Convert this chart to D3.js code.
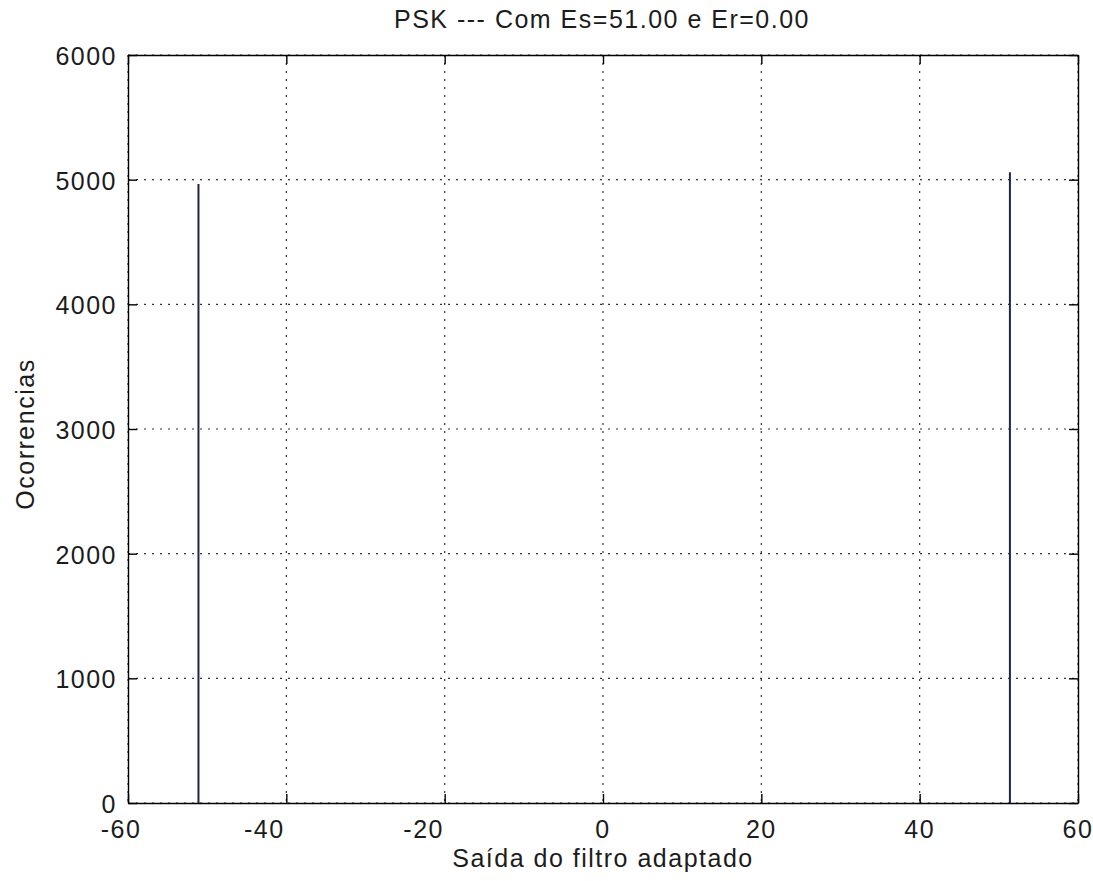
<!DOCTYPE html>
<html>
<head>
<meta charset="utf-8">
<script src="https://cdn.jsdelivr.net/npm/d3@7"></script>
<style>
  html, body { margin: 0; padding: 0; background: #fff; }
  svg { display: block; }
  text { font-family: "Liberation Sans", Arial, sans-serif; fill: #1c1c1c; }
</style>
</head>
<body>
<svg id="chart" width="1093" height="881"></svg>
<script>
// Histogram of matched-filter output: two occupied bins (symbols -1 / +1)
const binCenters = [-51.1, 51.4];
const counts = [4965, 5060];

const xTicks = [-60, -40, -20, 0, 20, 40, 60];
const yTicks = [0, 1000, 2000, 3000, 4000, 5000, 6000];

const titleText = "PSK --- Com Es=51.00 e Er=0.00";
const xLabel = "Saída do filtro adaptado";
const yLabel = "Ocorrencias";

const svg = d3.select("#chart");
const L = 128, R = 1078, T = 55, B = 803;

const x = d3.scaleLinear().domain([-60, 60]).range([L, R]);
const y = d3.scaleLinear().domain([0, 6000]).range([B, T]);

const fontSize = 25, ls = 1.5;

// horizontal nudge for the negative tick labels (they sit left of their tick)
const negLabelShift = { "-60": -7, "-40": -22, "-20": -21 };

// dotted grid
const grid = svg.append("g").attr("stroke", "#333").attr("stroke-width", 1.2)
  .attr("stroke-dasharray", "2,6");
grid.selectAll(".gx").data(xTicks).join("line")
  .attr("x1", d => x(d)).attr("x2", d => x(d))
  .attr("y1", T).attr("y2", B);
grid.selectAll(".gy").data(yTicks).join("line")
  .attr("x1", L).attr("x2", R)
  .attr("y1", d => y(d)).attr("y2", d => y(d));

// stems
svg.append("g").selectAll("line").data(binCenters).join("line")
  .attr("x1", d => x(d)).attr("x2", d => x(d))
  .attr("y1", y(0)).attr("y2", (d, i) => y(counts[i]))
  .attr("stroke", "#22224a").attr("stroke-width", 2);

// axes with inward ticks on all four sides
const tl = 9;
const axBottom = d3.axisBottom(x).tickValues(xTicks).tickSizeInner(-tl).tickSizeOuter(0).tickFormat("");
const axTop = d3.axisTop(x).tickValues(xTicks).tickSizeInner(-tl).tickSizeOuter(0).tickFormat("");
const axLeft = d3.axisLeft(y).tickValues(yTicks).tickSizeInner(-tl).tickSizeOuter(0).tickFormat("");
const axRight = d3.axisRight(y).tickValues(yTicks).tickSizeInner(-tl).tickSizeOuter(0).tickFormat("");

function styleAxis(g) {
  g.selectAll("path").attr("stroke", "#000").attr("stroke-width", 1.4);
  g.selectAll("line").attr("stroke", "#000").attr("stroke-width", 1.4);
}
svg.append("g").attr("transform", `translate(0,${B})`).call(axBottom).call(styleAxis);
svg.append("g").attr("transform", `translate(0,${T})`).call(axTop).call(styleAxis);
svg.append("g").attr("transform", `translate(${L},0)`).call(axLeft).call(styleAxis);
svg.append("g").attr("transform", `translate(${R},0)`).call(axRight).call(styleAxis);

// tick labels
svg.append("g").selectAll("text").data(xTicks).join("text")
  .attr("x", d => x(d) + (negLabelShift[String(d)] || 0)).attr("y", B + 35)
  .attr("text-anchor", "middle")
  .style("font-size", fontSize + "px").style("letter-spacing", ls + "px")
  .text(d => String(d));

svg.append("g").selectAll("text").data(yTicks).join("text")
  .attr("x", L - 11).attr("y", d => y(d) + 10)
  .attr("text-anchor", "end")
  .style("font-size", fontSize + "px").style("letter-spacing", ls + "px")
  .text(d => d);

// title and axis labels
svg.append("text").attr("x", 602).attr("y", 28).attr("text-anchor", "middle")
  .style("font-size", fontSize + "px").style("letter-spacing", ls + "px")
  .text(titleText);

svg.append("text").attr("x", 603).attr("y", 867).attr("text-anchor", "middle")
  .style("font-size", fontSize + "px").style("letter-spacing", ls + "px")
  .text(xLabel);

svg.append("text").attr("transform", "translate(34,434) rotate(-90)")
  .attr("text-anchor", "middle")
  .style("font-size", fontSize + "px").style("letter-spacing", ls + "px")
  .text(yLabel);
</script>
</body>
</html>
